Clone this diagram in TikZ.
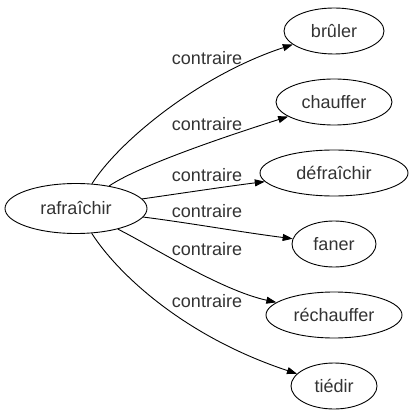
\documentclass[tikz,border=0pt]{standalone}
\usepackage{fontspec}
\setmainfont{Liberation Sans}
\usetikzlibrary{shapes.geometric,arrows.meta}
\definecolor{txt}{HTML}{333333}
\tikzset{
  ent/.style={ellipse, draw=black, line width=0.9pt, inner sep=0pt, minimum height=46pt, text=txt, font=\fontsize{18}{20}\selectfont},
  lbl/.style={anchor=base, inner sep=0pt, text=txt, font=\fontsize{18}{20}\selectfont},
  rel/.style={draw=black, line width=0.9pt, -{Triangle[length=10pt,width=7pt]}}
}
\begin{document}
\begin{tikzpicture}[x=1pt,y=-1pt]
\useasboundingbox (0,0) rectangle (413,419);
\node[ent, minimum width=142pt, minimum height=50pt] (r) at (76,208.5) {rafraîchir};
\node[ent, minimum width=100pt] (b) at (334,31) {brûler};
\node[ent, minimum width=116pt] (c) at (334,102) {chauffer};
\node[ent, minimum width=148pt] (d) at (334,173) {défraîchir};
\node[ent, minimum width=84pt] (f) at (334,244) {faner};
\node[ent, minimum width=136pt] (re) at (334,315) {réchauffer};
\node[ent, minimum width=86pt] (t) at (334,386) {tiédir};

\node[lbl] (l1) at (207,65) {contraire};
\node[lbl] (l2) at (207,131) {contraire};
\node[lbl] (l3) at (207,182) {contraire};
\node[lbl] (l4) at (207,218) {contraire};
\node[lbl] (l5) at (207,255) {contraire};
\node[lbl] (l6) at (207,307) {contraire};

\draw[rel] (r) .. controls (120,140) and (200,75) .. (b);
\draw[rel] (r) .. controls (140,165) and (230,135) .. (c);
\draw[rel] (r) .. controls (190,192) and (230,186) .. (d);
\draw[rel] (r) .. controls (190,223) and (240,232) .. (f);
\draw[rel] (r) .. controls (150,245) and (220,290) .. (re);
\draw[rel] (r) .. controls (115,270) and (180,335) .. (t);
\end{tikzpicture}
\end{document}
